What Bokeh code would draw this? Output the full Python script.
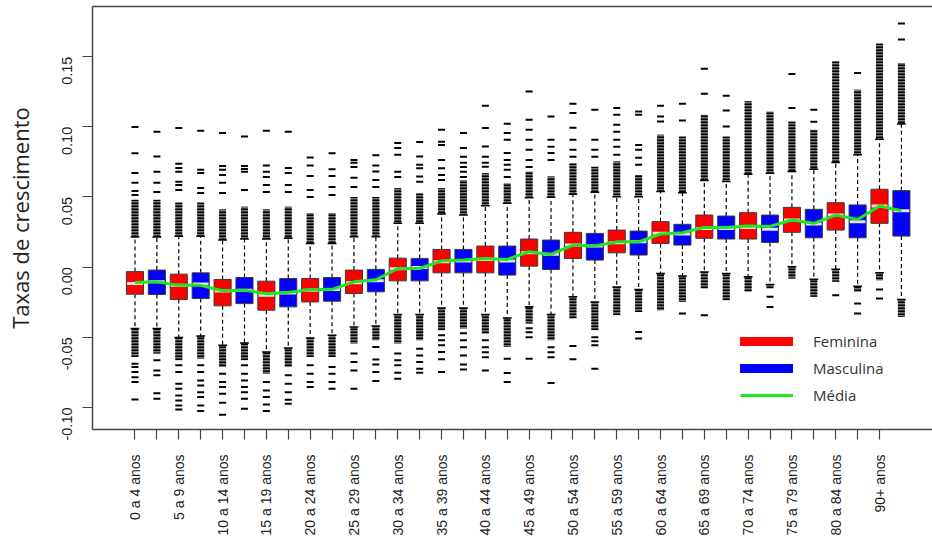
import math
from bokeh.plotting import figure
from bokeh.models import (Range1d, FixedTicker, NumeralTickFormatter, LinearAxis,
                          Legend, LegendItem)
from bokeh.embed import file_html
from bokeh.resources import INLINE

# ---------------- data ----------------
age_groups = ["0 a 4 anos", "5 a 9 anos", "10 a 14 anos", "15 a 19 anos",
              "20 a 24 anos", "25 a 29 anos", "30 a 34 anos", "35 a 39 anos",
              "40 a 44 anos", "45 a 49 anos", "50 a 54 anos", "55 a 59 anos",
              "60 a 64 anos", "65 a 69 anos", "70 a 74 anos", "75 a 79 anos",
              "80 a 84 anos", "90+ anos"]
sexes = ["Feminina", "Masculina"]          # boxes alternate F, M per age group

q1 = [-0.0193, -0.0195, -0.0231, -0.0224, -0.0276, -0.0260, -0.0307, -0.0283,
      -0.0248, -0.0243, -0.0188, -0.0176,
      -0.0098, -0.0098, -0.0041, -0.0041, -0.0041, -0.0057, 0.0007, -0.0017,
      0.0062, 0.0050, 0.0102, 0.0086,
      0.0169, 0.0157, 0.0205, 0.0200, 0.0200, 0.0176, 0.0248, 0.0209,
      0.0264, 0.0209, 0.0312, 0.0221]
median = [-0.0116, -0.0105, -0.0129, -0.0121, -0.0171, -0.0164, -0.0200, -0.0184,
          -0.0164, -0.0160, -0.0112, -0.0098,
          -0.0012, -0.0002, 0.0038, 0.0043, 0.0055, 0.0043, 0.0102, 0.0091,
          0.0157, 0.0150, 0.0174, 0.0180,
          0.0241, 0.0236, 0.0276, 0.0276, 0.0283, 0.0269, 0.0336, 0.0307,
          0.0371, 0.0324, 0.0436, 0.0402]
q3 = [-0.0032, -0.0021, -0.0050, -0.0041, -0.0088, -0.0074, -0.0100, -0.0081,
      -0.0081, -0.0074, -0.0021, -0.0016,
      0.0064, 0.0062, 0.0126, 0.0126, 0.0150, 0.0150, 0.0200, 0.0193,
      0.0248, 0.0240, 0.0264, 0.0257,
      0.0324, 0.0305, 0.0371, 0.0364, 0.0388, 0.0371, 0.0426, 0.0412,
      0.0459, 0.0443, 0.0555, 0.0545]
whisker_low = [-0.0438, -0.0438, -0.0502, -0.0490, -0.0557, -0.0540, -0.0605, -0.0576,
               -0.0505, -0.0486, -0.0426, -0.0419,
               -0.0338, -0.0338, -0.0291, -0.0291, -0.0338, -0.0362, -0.0283, -0.0338,
               -0.0212, -0.0248, -0.0141, -0.0159,
               -0.0045, -0.0064, -0.0034, -0.0045, -0.0069, -0.0124, 0.0002, -0.0086,
               -0.0016, -0.0136, -0.0041, -0.0231]
whisker_high = [0.0214, 0.0214, 0.0220, 0.0220, 0.0193, 0.0200, 0.0200, 0.0205,
                0.0169, 0.0169, 0.0217, 0.0217,
                0.0312, 0.0312, 0.0379, 0.0371, 0.0438, 0.0455, 0.0495, 0.0498,
                0.0519, 0.0533, 0.0502, 0.0502,
                0.0538, 0.0530, 0.0617, 0.0610, 0.0662, 0.0669, 0.0681, 0.0698,
                0.0745, 0.0800, 0.0912, 0.1020]
mean = [-0.0110, -0.0105, -0.0130, -0.0130, -0.0168, -0.0164, -0.0190, -0.0180,
        -0.0162, -0.0158, -0.0105, -0.0090,
        -0.0010, -0.0010, 0.0045, 0.0050, 0.0062, 0.0055, 0.0110, 0.0090,
        0.0157, 0.0150, 0.0180, 0.0180,
        0.0236, 0.0245, 0.0283, 0.0283, 0.0293, 0.0290, 0.0336, 0.0312,
        0.0371, 0.0340, 0.0436, 0.0402]
# extent of the dense run of outliers just beyond each whisker
dense_high = [0.0480, 0.0480, 0.0460, 0.0460, 0.0410, 0.0430, 0.0410, 0.0430,
              0.0386, 0.0386, 0.0500, 0.0500,
              0.0562, 0.0526, 0.0562, 0.0621, 0.0669, 0.0598, 0.0681, 0.0645,
              0.0741, 0.0716, 0.0752, 0.0657,
              0.0943, 0.0931, 0.1086, 0.0931, 0.1181, 0.1109, 0.1038, 0.0979,
              0.1466, 0.1264, 0.1593, 0.1455]
dense_low = [-0.0641, -0.0616, -0.0664, -0.0652, -0.0712, -0.0664, -0.0759, -0.0712,
             -0.0641, -0.0641, -0.0545, -0.0521,
             -0.0545, -0.0521, -0.0450, -0.0438, -0.0474, -0.0569, -0.0402, -0.0521,
             -0.0366, -0.0450, -0.0343, -0.0319,
             -0.0307, -0.0248, -0.0152, -0.0236, -0.0176, -0.0152, -0.0081, -0.0212,
             -0.0105, -0.0176, -0.0093, -0.0355]
# sparse outliers beyond the dense runs
outliers_high = [
    [0.0998, 0.0812, 0.0671, 0.0602, 0.0543, 0.0514],
    [0.0964, 0.0788, 0.0679, 0.0602, 0.0536],
    [0.0991, 0.0736, 0.0707, 0.0679, 0.0609, 0.0586, 0.0550],
    [0.0971, 0.0693, 0.0671, 0.0564, 0.0529],
    [0.0955, 0.0721, 0.0693, 0.0657, 0.0602, 0.0529],
    [0.0931, 0.0721, 0.0700, 0.0679, 0.0550],
    [0.0971, 0.0724, 0.0679, 0.0643, 0.0586, 0.0536],
    [0.0964, 0.0707, 0.0671, 0.0586, 0.0536],
    [0.0781, 0.0724, 0.0650, 0.0550, 0.0500],
    [0.0812, 0.0698, 0.0650, 0.0571, 0.0514],
    [0.0764, 0.0743, 0.0714, 0.0636, 0.0571],
    [0.0798, 0.0724, 0.0681, 0.0621, 0.0571],
    [0.0643, 0.0679, 0.0800, 0.0848, 0.0884],
    [0.0609, 0.0645, 0.0705, 0.0729, 0.0788, 0.0891],
    [0.0621, 0.0657, 0.0705, 0.0764, 0.0871, 0.0893, 0.0979],
    [0.0643, 0.0679, 0.0714, 0.0743, 0.0786, 0.0848, 0.0955],
    [0.0716, 0.0743, 0.0786, 0.0859, 0.0991, 0.1150],
    [0.0643, 0.0693, 0.0729, 0.0764, 0.0814, 0.0907, 0.0955, 0.1021],
    [0.0714, 0.0764, 0.0836, 0.0907, 0.0979, 0.1050, 0.1252],
    [0.0764, 0.0814, 0.0857, 0.0907, 0.1074],
    [0.0786, 0.0836, 0.0907, 0.0993, 0.1098, 0.1164],
    [0.0786, 0.0836, 0.0907, 0.1121],
    [0.0800, 0.0857, 0.0907, 0.0964, 0.1014, 0.1086, 0.1134],
    [0.0729, 0.0779, 0.0836, 0.0871, 0.1086, 0.1109],
    [0.1038, 0.1074, 0.1150],
    [0.1045, 0.1164],
    [0.1236, 0.1414],
    [0.1002, 0.1116, 0.1221],
    [],
    [],
    [0.1134, 0.1376],
    [0.1036, 0.1121],
    [],
    [0.1384],
    [],
    [0.1621, 0.1736],
]
outliers_low = [
    [-0.0688, -0.0712, -0.0748, -0.0784, -0.0819, -0.0943],
    [-0.0664, -0.0736, -0.0771, -0.0898, -0.0938],
    [-0.0700, -0.0748, -0.0831, -0.0866, -0.0914, -0.0950, -0.0986, -0.1014],
    [-0.0700, -0.0748, -0.0807, -0.0843, -0.0891, -0.0926, -0.0986, -0.1026],
    [-0.0759, -0.0819, -0.0855, -0.0902, -0.0966, -0.1052],
    [-0.0700, -0.0759, -0.0807, -0.0855, -0.0891, -0.0938, -0.1009],
    [-0.0819, -0.0879, -0.0926, -0.0979, -0.1026],
    [-0.0771, -0.0831, -0.0891, -0.0945, -0.0974],
    [-0.0700, -0.0759, -0.0819, -0.0855],
    [-0.0712, -0.0759, -0.0819, -0.0866],
    [-0.0616, -0.0676, -0.0736, -0.0866],
    [-0.0569, -0.0659, -0.0693, -0.0748, -0.0812],
    [-0.0616, -0.0664, -0.0700, -0.0752, -0.0795],
    [-0.0581, -0.0629, -0.0676, -0.0724, -0.0752],
    [-0.0486, -0.0521, -0.0557, -0.0605, -0.0657, -0.0748],
    [-0.0471, -0.0521, -0.0571, -0.0629, -0.0693, -0.0729],
    [-0.0521, -0.0571, -0.0607, -0.0643, -0.0736],
    [-0.0652, -0.0755, -0.0819],
    [-0.0436, -0.0464, -0.0500, -0.0652],
    [-0.0571, -0.0607, -0.0643, -0.0826],
    [-0.0562, -0.0657],
    [-0.0500, -0.0529, -0.0557, -0.0724],
    [],
    [-0.0462, -0.0509],
    [],
    [-0.0331],
    [-0.0343],
    [],
    [],
    [-0.0212, -0.0284],
    [],
    [],
    [-0.0200],
    [-0.0259, -0.0331],
    [-0.0159, -0.0224],
    [],
]
y_ticks = [-0.10, -0.05, 0.00, 0.05, 0.10, 0.15]
y_title = "Taxas de crescimento"
mean_label = "Média"

# ---------------- styles ----------------
FEM_COLOR = "#ff0000"
MAS_COLOR = "#0000ff"
MEAN_COLOR = "#1fe61f"
AXIS_COLOR = "#444444"
BOX_W = 0.78
STAPLE_W = 0.4
DENSE_W = 0.32

n = len(q1)
xs = list(range(1, n + 1))
colors = [FEM_COLOR if i % 2 == 0 else MAS_COLOR for i in range(n)]

p = figure(width=932, height=538,
           x_range=Range1d(-0.94, 37.42), y_range=Range1d(-0.1157, 0.1857),
           output_backend="svg", toolbar_location=None,
           min_border_left=92, min_border_right=0, min_border_top=6,
           min_border_bottom=109, outline_line_color=None,
           background_fill_color="white", border_fill_color="white")
p.grid.visible = False

# whiskers (dashed)
p.segment(x0=xs, y0=q3, x1=xs, y1=whisker_high, line_color="black",
          line_width=1.2, line_dash="4 3")
p.segment(x0=xs, y0=q1, x1=xs, y1=whisker_low, line_color="black",
          line_width=1.2, line_dash="4 3")

# dense runs of outliers (stacked dashes)
dense_style = dict(width=DENSE_W, fill_color="#1a1a1a", fill_alpha=0.6,
                   line_color=None, hatch_pattern="horizontal_line",
                   hatch_color="black", hatch_scale=3, hatch_weight=2)
p.vbar(x=xs, bottom=whisker_high, top=dense_high, **dense_style)
p.vbar(x=xs, bottom=dense_low, top=whisker_low, **dense_style)

# staples
p.segment(x0=[x - STAPLE_W / 2 for x in xs], y0=whisker_high,
          x1=[x + STAPLE_W / 2 for x in xs], y1=whisker_high,
          line_color="black", line_width=1.5)
p.segment(x0=[x - STAPLE_W / 2 for x in xs], y0=whisker_low,
          x1=[x + STAPLE_W / 2 for x in xs], y1=whisker_low,
          line_color="black", line_width=1.5)

# sparse outliers
ox, oy = [], []
for x, hi, lo in zip(xs, outliers_high, outliers_low):
    for v in hi + lo:
        ox.append(x)
        oy.append(v)
p.scatter(x=ox, y=oy, marker="dash", size=7, line_color="black", line_width=2)

# boxes
p.vbar(x=xs, width=BOX_W, bottom=q1, top=q3, fill_color=colors,
       line_color="#3a3a3a", line_width=1)
p.segment(x0=[x - BOX_W / 2 + 0.03 for x in xs], y0=median,
          x1=[x + BOX_W / 2 - 0.03 for x in xs], y1=median,
          line_color="#e4e4e4", line_width=3)

# mean line
p.line(xs, mean, line_color=MEAN_COLOR, line_width=3)

# legend (renderers with no visible data, only for the legend glyphs)
nan = float("nan")
r_f = p.line([nan], [nan], line_color=FEM_COLOR, line_width=9, line_cap="round")
r_m = p.line([nan], [nan], line_color=MAS_COLOR, line_width=9, line_cap="round")
r_a = p.line([nan], [nan], line_color=MEAN_COLOR, line_width=3)
legend = Legend(items=[LegendItem(label=sexes[0], renderers=[r_f], index=0),
                       LegendItem(label=sexes[1], renderers=[r_m], index=0),
                       LegendItem(label=mean_label, renderers=[r_a], index=0)],
                location=(648, 24), glyph_width=53, glyph_height=20,
                label_height=20, label_standoff=20, spacing=7, padding=0,
                margin=0, border_line_color=None, background_fill_alpha=0,
                label_text_font="Open Sans", label_text_font_size="15px",
                label_text_color="#333333")
p.add_layout(legend)

# axes
xa = p.xaxis[0]
xa.ticker = FixedTicker(ticks=list(range(1, 36)))
xa.major_label_overrides = {i: (age_groups[(i - 1) // 2] if i % 2 == 1 else "")
                            for i in range(1, 36)}
xa.major_label_orientation = math.pi / 2
xa.major_tick_out = 10
xa.major_tick_in = 0
xa.minor_tick_line_color = None
xa.major_label_standoff = 15
xa.major_label_text_font = "Liberation Sans"
xa.major_label_text_font_size = "14px"
xa.major_label_text_color = "#222222"
xa.axis_line_color = AXIS_COLOR
xa.axis_line_width = 1.5
xa.major_tick_line_color = AXIS_COLOR
xa.major_tick_line_width = 1.2

ya = p.yaxis[0]
ya.ticker = FixedTicker(ticks=y_ticks)
ya.formatter = NumeralTickFormatter(format="0.00")
ya.major_label_orientation = math.pi / 2
ya.major_tick_out = 10
ya.major_tick_in = 0
ya.minor_tick_line_color = None
ya.major_label_standoff = 15
ya.major_label_text_font = "Liberation Sans"
ya.major_label_text_font_size = "14.5px"
ya.major_label_text_color = "#222222"
ya.axis_line_color = AXIS_COLOR
ya.axis_line_width = 1.5
ya.major_tick_line_color = AXIS_COLOR
ya.major_tick_line_width = 1.2
ya.axis_label = y_title
ya.axis_label_text_font = "Open Sans"
ya.axis_label_text_font_size = "22px"
ya.axis_label_text_font_style = "normal"
ya.axis_label_text_color = "#222222"
ya.axis_label_standoff = 20

top = LinearAxis(ticker=FixedTicker(ticks=[]), axis_line_color=AXIS_COLOR,
                 axis_line_width=1.5, major_tick_line_color=None,
                 minor_tick_line_color=None, major_label_text_font_size="0px",
                 major_label_standoff=0)
p.add_layout(top, "above")

open("out.html", "w").write(file_html(p, INLINE))
